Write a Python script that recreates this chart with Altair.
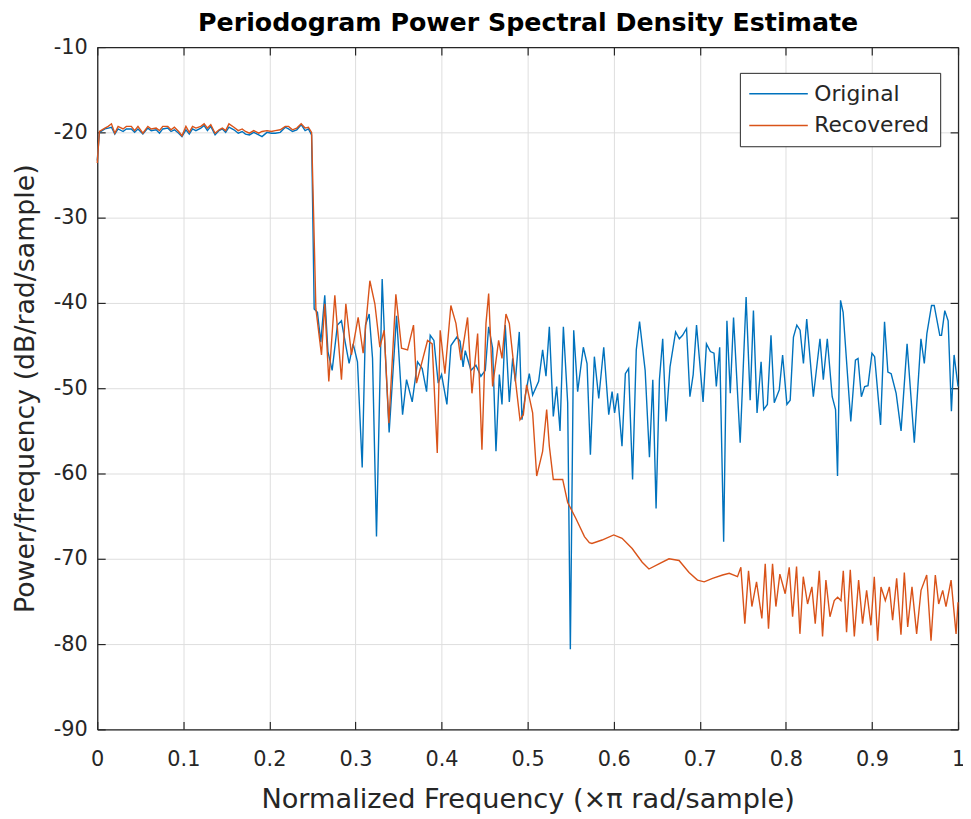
import altair as alt
import pandas as pd

# ---- data ----
orig_freq = [
    0.0, 0.0025, 0.0089, 0.0127, 0.0165, 0.0204, 0.0242, 0.0300, 0.0338, 0.0396,
    0.0434, 0.0473, 0.0530, 0.0588, 0.0627, 0.0684, 0.0723, 0.0761, 0.0819, 0.0857,
    0.0896, 0.0946, 0.0984, 0.1030, 0.1069, 0.1107, 0.1146, 0.1203, 0.1242, 0.1280,
    0.1319, 0.1369, 0.1415, 0.1453, 0.1492, 0.1530, 0.1588, 0.1638, 0.1684, 0.1722,
    0.1768, 0.1818, 0.1876, 0.1914, 0.1972, 0.2022, 0.2068, 0.2126, 0.2184, 0.2222,
    0.2268, 0.2318, 0.2369, 0.2415, 0.2453, 0.2490, 0.2520,
    0.2558, 0.2597, 0.2643, 0.2680, 0.2729, 0.2790, 0.2837, 0.2880, 0.2926, 0.2973,
    0.3023, 0.3078, 0.3116, 0.3159, 0.3198, 0.3244, 0.3310, 0.3340, 0.3391, 0.3477,
    0.3547, 0.3593, 0.3659, 0.3721, 0.3775, 0.3826, 0.3868, 0.3911, 0.3961, 0.4000,
    0.4062, 0.4109, 0.4178, 0.4215, 0.4250, 0.4275, 0.4341, 0.4399, 0.4457, 0.4508,
    0.4547, 0.4593, 0.4632, 0.4671, 0.4702, 0.4740, 0.4787, 0.4826, 0.4857, 0.4903,
    0.4934, 0.4973, 0.5019, 0.5058, 0.5128, 0.5174, 0.5213, 0.5252, 0.5298, 0.5337,
    0.5376, 0.5415, 0.5465, 0.5496, 0.5535, 0.5581, 0.5647, 0.5690, 0.5729, 0.5775,
    0.5826, 0.5884, 0.5942, 0.5981, 0.6010, 0.6045, 0.6096, 0.6135, 0.6173, 0.6219,
    0.6262, 0.6300, 0.6365, 0.6415, 0.6454, 0.6492, 0.6531, 0.6569, 0.6608, 0.6654,
    0.6719, 0.6762, 0.6800, 0.6846, 0.6885, 0.6923, 0.6962, 0.7038, 0.7077, 0.7123,
    0.7165, 0.7192, 0.7231, 0.7277, 0.7315, 0.7354, 0.7392, 0.7469, 0.7538, 0.7585,
    0.7623, 0.7665, 0.7712, 0.7742, 0.7785, 0.7827, 0.7865, 0.7923, 0.7962, 0.8012,
    0.8050, 0.8088, 0.8127, 0.8165, 0.8204, 0.8242, 0.8319, 0.8396, 0.8435, 0.8481,
    0.8538, 0.8577, 0.8600, 0.8635, 0.8665, 0.8754, 0.8808, 0.8838, 0.8877, 0.8915,
    0.8954, 0.9000, 0.9031, 0.9100, 0.9146, 0.9185, 0.9223, 0.9281, 0.9338, 0.9408,
    0.9492, 0.9569, 0.9608, 0.9638, 0.9692, 0.9723, 0.9788, 0.9808, 0.9846, 0.9885,
    0.9923, 0.9954, 1.0000,
]
orig_psd = [
    -23.3, -20.0, -19.6, -19.5, -19.4, -20.2, -19.6, -19.9, -19.6, -19.6,
    -20.0, -19.6, -20.2, -19.5, -19.8, -19.7, -20.1, -19.6, -19.5, -19.9,
    -19.7, -20.1, -20.5, -19.7, -20.2, -19.6, -19.8, -19.5, -19.2, -19.8,
    -19.3, -20.3, -19.8, -19.6, -20.0, -19.4, -19.7, -20.1, -19.9, -20.2,
    -20.3, -20.0, -20.3, -20.5, -20.0, -20.1, -20.1, -20.0, -19.4, -19.6,
    -19.9, -19.7, -19.1, -19.8, -19.6, -20.3, -40.7,
    -41.1, -44.6, -39.1, -45.7, -47.9, -42.6, -42.1, -44.6, -47.1, -44.8,
    -46.9, -59.3, -42.6, -41.3, -46.5, -67.4, -37.2, -44.6, -55.2, -41.5,
    -53.1, -49.0, -51.6, -46.9, -47.7, -50.4, -43.8, -44.4, -49.4, -48.4,
    -51.9, -45.0, -44.0, -44.5, -47.5, -45.6, -47.9, -47.3, -48.6, -47.9,
    -42.8, -45.3, -57.4, -48.4, -51.9, -42.6, -51.6, -46.5, -49.2, -43.4,
    -53.7, -50.8, -48.3, -50.8, -49.2, -45.5, -48.6, -42.8, -53.3, -49.8,
    -55.0, -42.8, -51.7, -80.6, -43.2, -50.4, -45.2, -47.1, -57.8, -46.3,
    -51.2, -45.2, -53.1, -50.4, -52.9, -50.6, -56.8, -48.3, -47.7, -60.7,
    -45.5, -42.2, -47.9, -58.1, -49.0, -64.1, -49.0, -44.2, -53.9, -47.5,
    -43.4, -44.2, -43.8, -43.0, -51.0, -48.4, -42.6, -51.6, -44.8, -45.7,
    -45.9, -49.8, -45.2, -68.0, -42.1, -50.6, -41.7, -56.4, -39.3, -51.4,
    -40.9, -52.9, -46.9, -52.5, -51.9, -43.8, -51.7, -50.2, -46.1, -51.9,
    -51.4, -44.0, -42.6, -43.2, -47.1, -41.9, -51.0, -44.2, -49.0, -44.2,
    -51.0, -52.5, -60.3, -39.7, -41.1, -53.9, -46.7, -46.5, -51.0, -49.8,
    -49.7, -45.9, -46.3, -54.3, -42.2, -48.1, -48.3, -50.6, -55.0, -44.8,
    -56.4, -44.2, -47.1, -43.6, -40.3, -40.3, -43.8, -43.8, -40.9, -42.1,
    -52.7, -46.1, -49.8,
]

rec_freq = [
    0.0, 0.0025, 0.0089, 0.0127, 0.0165, 0.0204, 0.0242, 0.0300, 0.0338, 0.0396,
    0.0434, 0.0473, 0.0530, 0.0588, 0.0627, 0.0684, 0.0723, 0.0761, 0.0819, 0.0857,
    0.0896, 0.0946, 0.0984, 0.1030, 0.1069, 0.1107, 0.1146, 0.1203, 0.1242, 0.1280,
    0.1319, 0.1369, 0.1415, 0.1453, 0.1492, 0.1530, 0.1588, 0.1638, 0.1684, 0.1722,
    0.1768, 0.1818, 0.1876, 0.1914, 0.1972, 0.2022, 0.2068, 0.2126, 0.2184, 0.2222,
    0.2268, 0.2318, 0.2369, 0.2415, 0.2453, 0.2490, 0.2540,
    0.2605, 0.2643, 0.2690, 0.2760, 0.2837, 0.2888, 0.2953, 0.3031, 0.3089, 0.3167,
    0.3225, 0.3283, 0.3333, 0.3388, 0.3469, 0.3535, 0.3605, 0.3674, 0.3709, 0.3837,
    0.3891, 0.3950, 0.3984, 0.4039, 0.4108, 0.4167, 0.4225, 0.4302, 0.4353, 0.4419,
    0.4469, 0.4516, 0.4547, 0.4593, 0.4663, 0.4702, 0.4748, 0.4787, 0.4845, 0.4911,
    0.4950, 0.4988, 0.5058, 0.5105, 0.5174, 0.5221, 0.5252, 0.5298, 0.5407, 0.5465,
    0.5562, 0.5660, 0.5717, 0.5747, 0.5864, 0.6000, 0.6097, 0.6214, 0.6331, 0.6409,
    0.6525, 0.6642, 0.6759, 0.6875, 0.6973, 0.7051, 0.7148, 0.7265, 0.7342, 0.7438,
    0.7477, 0.7523, 0.7566, 0.7605, 0.7659, 0.7721, 0.7760, 0.7798, 0.7845, 0.7884,
    0.7930, 0.7992, 0.8039, 0.8078, 0.8124, 0.8163, 0.8202, 0.8252, 0.8302, 0.8341,
    0.8388, 0.8426, 0.8465, 0.8512, 0.8562, 0.8601, 0.8640, 0.8667, 0.8705, 0.8748,
    0.8795, 0.8845, 0.8891, 0.8938, 0.8988, 0.9027, 0.9066, 0.9105, 0.9155, 0.9202,
    0.9240, 0.9287, 0.9337, 0.9376, 0.9415, 0.9465, 0.9519, 0.9570, 0.9636, 0.9686,
    0.9736, 0.9775, 0.9822, 0.9860, 0.9919, 0.9977, 1.0000,
]
rec_psd = [
    -23.6, -19.9, -19.5, -19.3, -19.0, -20.1, -19.3, -19.6, -19.3, -19.3,
    -19.8, -19.3, -20.1, -19.3, -19.6, -19.5, -19.8, -19.3, -19.3, -19.7,
    -19.4, -19.9, -20.4, -19.3, -20.0, -19.3, -19.5, -19.3, -19.0, -19.5,
    -19.1, -20.1, -19.7, -19.5, -19.8, -19.0, -19.4, -19.8, -19.6, -19.9,
    -20.1, -19.8, -20.1, -19.9, -19.8, -19.9, -19.8, -19.7, -19.3, -19.3,
    -19.7, -19.5, -19.0, -19.5, -19.4, -20.0, -40.7,
    -46.1, -40.1, -49.2, -39.1, -49.0, -40.1, -46.1, -41.7, -45.9, -37.4,
    -40.1, -45.2, -43.2, -54.1, -39.0, -45.3, -45.5, -42.6, -49.4, -44.4,
    -44.8, -57.6, -43.2, -48.3, -40.3, -42.4, -46.7, -41.7, -50.6, -43.6,
    -57.2, -42.4, -38.9, -49.8, -44.4, -46.5, -41.3, -42.4, -47.9, -53.7,
    -53.1, -49.6, -52.9, -60.3, -57.4, -52.5, -56.8, -60.7, -60.7, -63.4,
    -65.3, -67.4, -68.1, -68.2, -67.8, -67.2, -67.6, -68.8, -70.4, -71.2,
    -70.6, -70.0, -70.2, -71.6, -72.5, -72.7, -72.3, -71.9, -71.7, -72.1,
    -71.0, -77.6, -71.4, -75.6, -72.7, -77.0, -70.6, -78.2, -70.6, -75.6,
    -71.8, -74.1, -71.0, -76.8, -70.9, -78.8, -72.1, -75.3, -73.3, -77.6,
    -71.4, -79.1, -72.5, -76.8, -74.9, -74.5, -74.9, -71.4, -78.6, -71.3,
    -79.1, -72.5, -77.6, -73.7, -77.8, -72.1, -79.6, -73.3, -74.9, -73.3,
    -77.2, -72.3, -78.9, -71.6, -78.0, -73.3, -78.8, -73.7, -71.9, -79.6,
    -71.9, -75.3, -73.7, -75.6, -72.5, -78.8, -75.1,
]

series_names = ["Original", "Recovered"]
series_colors = ["#0072BD", "#D95319"]
x_ticks = [0, 0.1, 0.2, 0.3, 0.4, 0.5, 0.6, 0.7, 0.8, 0.9, 1]
y_ticks = [-90, -80, -70, -60, -50, -40, -30, -20, -10]
chart_title = "Periodogram Power Spectral Density Estimate"

df = pd.concat([
    pd.DataFrame({"freq": orig_freq, "psd": orig_psd, "series": series_names[0]}),
    pd.DataFrame({"freq": rec_freq, "psd": rec_psd, "series": series_names[1]}),
], ignore_index=True)

W, H = 868, 688
FONT = "DejaVu Sans"
AX = "#262626"

xscale = alt.Scale(domain=[0, 1], nice=False, zero=False)
yscale = alt.Scale(domain=[-90, -10], nice=False, zero=False)

lines = alt.Chart(df).mark_line(strokeWidth=1.4).encode(
    x=alt.X("freq:Q", scale=xscale, axis=alt.Axis(
        orient="bottom", values=x_ticks, labelExpr="'' + datum.value",
        grid=True, gridColor="#dedede", gridWidth=1, ticks=False,
        domain=True, domainColor=AX, domainWidth=1.3,
        labelFont=FONT, labelFontSize=21, labelColor=AX, labelPadding=19,
        labelFlush=False, labelOverlap=False,
        title="Normalized Frequency  (×π rad/sample)", titleFont=FONT,
        titleFontSize=27.4, titleFontWeight="normal", titleColor=AX,
        titleBaseline="alphabetic", titleY=79)),
    y=alt.Y("psd:Q", scale=yscale, axis=alt.Axis(
        orient="left", values=y_ticks, labelExpr="'' + datum.value",
        grid=True, gridColor="#dedede", gridWidth=1, ticks=False,
        domain=True, domainColor=AX, domainWidth=1.3,
        labelFont=FONT, labelFontSize=21, labelColor=AX, labelPadding=10,
        labelFlush=False, labelOverlap=False,
        title="Power/frequency (dB/rad/sample)", titleFont=FONT,
        titleFontSize=27, titleFontWeight="normal", titleColor=AX,
        titleBaseline="alphabetic", titleX=-64)),
    color=alt.Color("series:N", scale=alt.Scale(domain=series_names, range=series_colors),
                    legend=alt.Legend(
                        orient="none", legendX=648, legendY=26, title=None,
                        symbolType="M-3,0H3", symbolSize=387, symbolStrokeWidth=1.5,
                        symbolOffset=18, labelOffset=25,
                        labelFont=FONT, labelFontSize=22, labelColor=AX,
                        padding=10, rowPadding=10,
                        strokeColor=AX, fillColor="white", cornerRadius=0)),
)

# inward ticks on bottom + left edges
ticks_bl = alt.Chart(df).mark_point(opacity=0).encode(
    x=alt.X("freq:Q", scale=xscale, axis=alt.Axis(
        orient="top", offset=-H, values=x_ticks, labels=False, grid=False,
        domain=False, ticks=True, tickSize=8, tickColor=AX, tickWidth=1.2, title=None)),
    y=alt.Y("psd:Q", scale=yscale, axis=alt.Axis(
        orient="right", offset=-W, values=y_ticks, labels=False, grid=False,
        domain=False, ticks=True, tickSize=8, tickColor=AX, tickWidth=1.2, title=None)),
)

# top + right box edges with inward ticks; the top one also carries the chart title
ticks_tr = alt.Chart(df).mark_point(opacity=0).encode(
    x=alt.X("freq:Q", scale=xscale, axis=alt.Axis(
        orient="bottom", offset=-H, values=x_ticks, labels=False, grid=False,
        domain=True, domainColor=AX, domainWidth=1.3,
        ticks=True, tickSize=8, tickColor=AX, tickWidth=1.2,
        title=chart_title, titleFont=FONT, titleFontSize=25.5, titleFontWeight="bold",
        titleColor="#000000", titleBaseline="alphabetic", titleY=-17)),
    y=alt.Y("psd:Q", scale=yscale, axis=alt.Axis(
        orient="left", offset=-W, values=y_ticks, labels=False, grid=False,
        domain=True, domainColor=AX, domainWidth=1.3,
        ticks=True, tickSize=8, tickColor=AX, tickWidth=1.2, title=None)),
)

chart = alt.layer(lines, ticks_bl, ticks_tr).resolve_axis(
    x="independent", y="independent"
).properties(
    width=W, height=H,
    autosize=alt.AutoSizeParams(type="none"),
    padding={"left": 90, "top": 36, "right": 5, "bottom": 87},
).configure_view(stroke=None).configure(background="white")

chart.save("out.html", embed_options={"renderer": "svg", "actions": False})
